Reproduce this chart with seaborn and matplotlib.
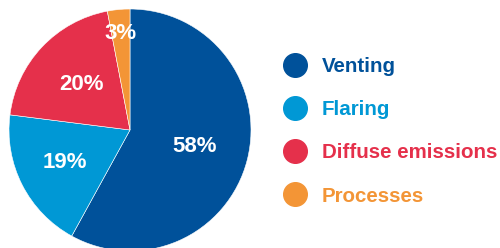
import numpy as np
import matplotlib
matplotlib.use("Agg")
import matplotlib.pyplot as plt
import seaborn as sns
from matplotlib.lines import Line2D

sources = ["Venting", "Flaring", "Diffuse emissions", "Processes"]
shares = [58, 19, 20, 3]
colors = ["#00519A", "#0098D5", "#E5304B", "#F39536"]
label_dist = [0.55, 0.6, 0.55, 0.8]

sns.set_theme(style="white")
plt.rcParams['font.family'] = ['Liberation Sans', 'DejaVu Sans']

fig = plt.figure(figsize=(5, 2.48), dpi=100)
# pie centre at (130, 130) px from top-left, radius ~121 px
r = 121
ax = fig.add_axes([(130 - r) / 500, (118 - r) / 248, 2 * r / 500, 2 * r / 248])

wedges, _ = ax.pie(shares, colors=colors, startangle=90, counterclock=False,
                   wedgeprops=dict(edgecolor="white", linewidth=0.4))
ax.set_xlim(-1, 1)
ax.set_ylim(-1, 1)
ax.set_aspect("auto")

for w, v, d in zip(wedges, shares, label_dist):
    ang = np.deg2rad((w.theta1 + w.theta2) / 2)
    ax.text(d * np.cos(ang), d * np.sin(ang), f"{v}%", color="white",
            fontsize=16, fontweight="bold", ha="center", va="center")

handles = [Line2D([], [], marker="o", linestyle="none", markersize=17,
                  markerfacecolor=c, markeredgecolor=c) for c in colors]
leg = fig.legend(handles, sources, loc="center left",
                 bbox_to_anchor=(283 / 500, 0.470), frameon=False,
                 borderpad=0, borderaxespad=0, handlelength=1.2,
                 handletextpad=0.7, labelspacing=1.17,
                 prop=dict(size=14.8, weight="bold"))
for t, c in zip(leg.get_texts(), colors):
    t.set_color(c)

fig.savefig("out.png", dpi=100)
